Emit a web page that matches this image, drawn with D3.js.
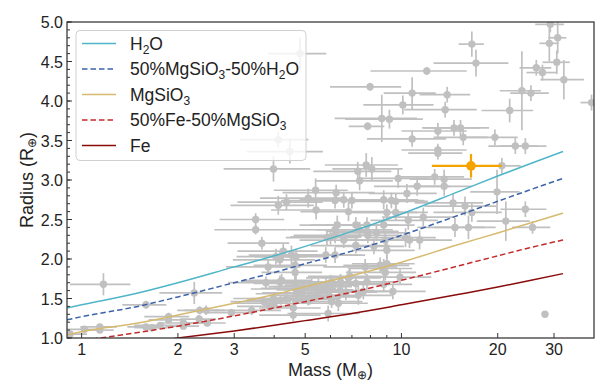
<!DOCTYPE html>
<html>
<head>
<meta charset="utf-8">
<script src="https://cdn.jsdelivr.net/npm/d3@7"></script>
<style>
  html, body { margin: 0; padding: 0; background: #ffffff; }
  svg { display: block; font-family: "Liberation Sans", Arial, sans-serif; }
</style>
</head>
<body>
<svg id="chart" width="610" height="390"></svg>
<script>
// ---------------- data ----------------
// Model curves (mass in Earth masses, radius in Earth radii)
const modelMass = [0.9, 1, 1.5, 2, 3, 4, 5, 7, 10, 15, 20, 25, 32];
const radiusH2O        = [1.38, 1.42, 1.57, 1.70, 1.90, 2.04, 2.16, 2.35, 2.57, 2.85, 3.05, 3.20, 3.36];
const radiusMgSiO3H2O  = [1.23, 1.27, 1.40, 1.52, 1.70, 1.83, 1.94, 2.10, 2.30, 2.55, 2.73, 2.87, 3.02];
const radiusMgSiO3     = [1.04, 1.08, 1.19, 1.29, 1.44, 1.55, 1.65, 1.79, 1.96, 2.18, 2.33, 2.45, 2.58];
const radiusFeMgSiO3   = [0.95, 0.97, 1.07, 1.15, 1.28, 1.38, 1.46, 1.58, 1.73, 1.91, 2.04, 2.14, 2.24];
const radiusFe         = [0.82, 0.845, 0.93, 1.00, 1.09, 1.16, 1.22, 1.31, 1.42, 1.55, 1.645, 1.725, 1.815];

// Observed planets
const planetMass = [
  0.92, 1.02, 1.14, 1.14, 1.17, 1.59, 1.59, 1.66, 1.76, 1.87,
  1.87, 2.08, 2.08, 2.25, 2.34, 2.45, 2.33, 2.47, 2.94, 3.5,
  3.5, 3.66, 3.83, 3.77, 3.72, 3.86, 3.98, 4.12, 4.37, 4.05,
  4.17, 4.27, 4.22, 4.37, 4.19, 4.53, 4.68, 4.65, 4.68, 4.59,
  4.59, 4.87, 5.11, 5.39, 5.41, 5.17, 5.5, 3.98, 7.76, 8.08,
  7.3, 7.4, 6.25, 6.2, 6.6, 7.0, 6.83, 8.8, 6.2, 6.3,
  6.2, 7.2, 7.4, 7.8, 7.8, 8.35, 8.8, 5.85, 6.0, 6.6,
  7.2, 8.2, 8.9, 9.0, 7.85, 9.77, 10.4, 9.3, 9.6, 9.0,
  9.6, 10.5, 11.2, 11.7, 12.7, 13.6, 13.6, 11.4, 10.3, 10.6,
  5.8, 6.2, 5.9, 6.35, 8.8, 9.0, 7.7, 8.58, 7.8, 7.2,
  9.9, 9.4, 6.43, 7.33, 7.6, 8.8, 8.9, 4.94, 5.24, 5.57,
  5.81, 6.0, 6.1, 6.45, 6.83, 6.9, 5.1, 5.43, 6.05, 5.98,
  6.7, 3.4, 4.0, 4.17, 4.65, 4.65, 4.7, 14.5, 15.8, 16.6,
  14.7, 16.2, 19.9, 20.6, 21.2, 24.4, 25.7, 22.7, 24.4, 28.1,
  16.6, 17.1, 12.0, 7.98, 10.8, 13.9, 10.1, 13.7, 8.68, 9.17,
  7.84, 13.0, 14.6, 15.3, 15.6, 10.8, 13.0, 13.0, 19.6, 21.8,
  23.8, 25.4, 26.4, 27.6, 30.6, 32.2, 29.0, 30.8, 29.2, 39.3,
  4.82, 4.12, 4.48
];
const planetRadius = [
  1.05, 1.11, 1.14, 1.10, 1.68, 1.42, 1.14, 1.13, 1.16, 1.27,
  1.23, 1.19, 1.15, 1.57, 1.35, 1.35, 1.24, 1.19, 1.32, 2.50,
  2.37, 2.20, 1.90, 1.70, 1.46, 1.40, 1.50, 2.68, 2.72, 2.03,
  1.99, 2.10, 1.73, 1.50, 1.48, 2.05, 2.03, 1.83, 1.62, 1.38,
  1.29, 1.57, 2.77, 2.87, 2.62, 1.50, 1.65, 3.14, 3.19, 3.14,
  3.11, 2.99, 2.84, 2.74, 2.75, 2.74, 2.60, 2.75, 2.37, 2.43,
  2.30, 2.43, 2.37, 2.43, 2.35, 2.33, 2.43, 2.27, 2.28, 2.24,
  2.17, 2.16, 2.24, 2.11, 2.30, 3.02, 2.83, 2.74, 2.73, 2.59,
  2.59, 2.49, 2.92, 2.53, 3.04, 3.01, 2.92, 2.24, 2.27, 2.24,
  2.05, 2.05, 1.31, 1.44, 1.88, 1.94, 1.90, 1.92, 1.71, 1.69,
  1.77, 1.59, 1.60, 1.54, 1.59, 1.68, 1.83, 1.63, 1.65, 1.61,
  1.67, 1.70, 1.69, 1.71, 1.76, 1.78, 1.49, 1.54, 1.46, 1.52,
  1.58, 1.35, 1.44, 1.71, 1.92, 1.69, 1.56, 2.71, 2.67, 2.59,
  2.40, 2.40, 2.85, 3.18, 2.48, 2.63, 2.40, 3.43, 3.43, 1.30,
  4.72, 4.48, 4.38, 4.18, 4.10, 4.08, 3.95, 3.89, 3.78, 3.77,
  3.68, 3.62, 3.66, 3.66, 3.54, 3.52, 3.38, 3.34, 3.54, 3.88,
  4.13, 4.10, 4.42, 4.36, 4.49, 4.27, 4.73, 4.80, 4.97, 3.98,
  4.60, 3.51, 3.36
];
const massErr = [
  0.12, 0.14, 0.15, 0.12, 0.25, 0.25, 0.2, 0.2, 0.3, 0.3,
  0.25, 0.3, 0.25, 0.5, 0.35, 0.35, 0.3, 0.35, 0.5, 0.8,
  0.9, 0.8, 1.0, 0.9, 0.8, 0.8, 1.0, 1.2, 1.3, 1.0,
  1.2, 1.2, 1.0, 1.0, 0.9, 1.2, 1.2, 1.0, 1.3, 1.0,
  1.0, 1.2, 1.5, 1.4, 1.5, 1.3, 1.5, 1.2, 2.0, 2.0,
  2.0, 2.0, 2.0, 2.0, 1.8, 2.0, 2.0, 2.5, 1.8, 1.5,
  1.6, 2.0, 2.0, 2.0, 2.0, 2.2, 2.2, 1.5, 1.5, 1.8,
  2.0, 2.0, 2.2, 2.0, 2.0, 2.5, 2.5, 2.5, 2.5, 2.2,
  2.5, 2.5, 3.0, 3.0, 3.0, 3.0, 3.0, 3.0, 2.5, 2.5,
  1.5, 1.5, 1.5, 1.5, 2.0, 2.0, 2.0, 2.0, 2.0, 1.8,
  2.5, 2.5, 1.8, 2.0, 2.0, 2.0, 2.2, 1.3, 1.4, 1.5,
  1.5, 1.5, 1.5, 1.5, 1.8, 1.8, 1.3, 1.4, 1.5, 1.5,
  1.7, 0.8, 1.0, 1.0, 1.2, 1.2, 1.2, 3.5, 4.0, 4.0,
  3.5, 3.5, 3.5, 3.0, 4.0, 4.0, 3.5, 4.0, 4.0, 0.4,
  1.5, 4.5, 4.0, 2.0, 2.0, 2.5, 2.5, 3.5, 2.5, 2.5,
  1.0, 3.0, 3.0, 3.5, 3.0, 3.0, 3.0, 2.5, 3.5, 4.0,
  3.5, 3.5, 3.0, 3.0, 3.0, 5.0, 2.0, 2.0, 3.0, 3.0,
  1.0, 1.0, 1.2
];
const radiusErr = [
  0.03, 0.03, 0.04, 0.03, 0.14, 0.05, 0.04, 0.03, 0.04, 0.05,
  0.04, 0.05, 0.04, 0.14, 0.05, 0.06, 0.05, 0.04, 0.05, 0.08,
  0.06, 0.08, 0.10, 0.08, 0.06, 0.06, 0.08, 0.12, 0.10, 0.10,
  0.10, 0.10, 0.08, 0.07, 0.06, 0.12, 0.10, 0.12, 0.20, 0.08,
  0.08, 0.08, 0.12, 0.15, 0.12, 0.08, 0.10, 0.16, 0.15, 0.15,
  0.12, 0.12, 0.10, 0.10, 0.10, 0.10, 0.12, 0.12, 0.10, 0.12,
  0.10, 0.10, 0.10, 0.10, 0.10, 0.10, 0.10, 0.10, 0.10, 0.10,
  0.10, 0.10, 0.10, 0.10, 0.10, 0.12, 0.12, 0.10, 0.10, 0.10,
  0.10, 0.12, 0.12, 0.12, 0.10, 0.12, 0.12, 0.12, 0.12, 0.10,
  0.10, 0.10, 0.10, 0.10, 0.12, 0.12, 0.10, 0.10, 0.10, 0.10,
  0.10, 0.10, 0.10, 0.12, 0.10, 0.10, 0.10, 0.08, 0.10, 0.10,
  0.10, 0.10, 0.10, 0.10, 0.10, 0.10, 0.08, 0.08, 0.08, 0.08,
  0.10, 0.06, 0.06, 0.08, 0.10, 0.10, 0.12, 0.12, 0.12, 0.12,
  0.12, 0.15, 0.28, 0.10, 0.25, 0.10, 0.08, 0.10, 0.10, 0.04,
  0.16, 0.17, 0.05, 0.05, 0.20, 0.10, 0.12, 0.10, 0.30, 0.12,
  0.05, 0.10, 0.10, 0.10, 0.10, 0.10, 0.08, 0.08, 0.10, 0.15,
  0.50, 0.10, 0.10, 0.10, 0.15, 0.25, 0.23, 0.20, 0.10, 0.10,
  0.20, 0.10, 0.15
];

// Highlighted planet
const targetMass = [16.5];
const targetRadius = [3.18];
const targetMassLo = [12.45];
const targetMassHi = [20.6];
const targetRadiusErr = [0.15];

// Axis ticks
const xMajorTicks = [1, 2, 3, 5, 10, 20, 30];
const xMinorTicks = [4, 6, 7, 8, 9];
const yMajorTicks = [1.0, 1.5, 2.0, 2.5, 3.0, 3.5, 4.0, 4.5, 5.0];
const yMinorTicks = d3.range(1.0, 5.0001, 0.1).map(v => +v.toFixed(1));

// Legend
const legendLabels = [
  [{t: "H"}, {t: "2", sub: true}, {t: "O"}],
  [{t: "50%MgSiO"}, {t: "3", sub: true}, {t: "-50%H"}, {t: "2", sub: true}, {t: "O"}],
  [{t: "MgSiO"}, {t: "3", sub: true}],
  [{t: "50%Fe-50%MgSiO"}, {t: "3", sub: true}],
  [{t: "Fe"}]
];
const curveSeries = [radiusH2O, radiusMgSiO3H2O, radiusMgSiO3, radiusFeMgSiO3, radiusFe];
const curveColors = ["#4fb5c9", "#3d63aa", "#d6ba6e", "#c42a2a", "#8a0b0b"];
const curveDashed = [false, true, false, true, false];

// ---------------- drawing ----------------
(function draw() {
const svg = d3.select("#chart");
const pL = 67, pR = 594, pT = 22, pB = 338;

const x = d3.scaleLog().domain([0.9, 40]).range([pL, pR]);
const y = d3.scaleLinear().domain([1, 5]).range([pB, pT]);

svg.append("defs").append("clipPath").attr("id", "plotclip")
  .append("rect").attr("x", pL).attr("y", pT)
  .attr("width", pR - pL).attr("height", pB - pT);

const plot = svg.append("g").attr("clip-path", "url(#plotclip)");

const gray = "#c0c0c0";
const pts = planetMass.map((m, i) => ({m, r: planetRadius[i], dm: massErr[i], dr: radiusErr[i]}));

// error bars
const eb = plot.append("g").attr("stroke", gray).attr("stroke-width", 1.7);
eb.selectAll("line.h").data(pts).join("line").attr("class", "h")
  .attr("x1", d => x(Math.max(0.5, d.m - d.dm))).attr("x2", d => x(d.m + d.dm))
  .attr("y1", d => y(d.r)).attr("y2", d => y(d.r));
eb.selectAll("line.v").data(pts).join("line").attr("class", "v")
  .attr("x1", d => x(d.m)).attr("x2", d => x(d.m))
  .attr("y1", d => y(d.r - d.dr)).attr("y2", d => y(d.r + d.dr));
plot.append("g").selectAll("circle").data(pts).join("circle")
  .attr("cx", d => x(d.m)).attr("cy", d => y(d.r)).attr("r", 3.7)
  .attr("fill", gray);

// model curves
curveSeries.forEach((series, k) => {
  const line = d3.line().x((d, i) => x(modelMass[i])).y(d => y(d)).curve(d3.curveMonotoneX);
  plot.append("path").datum(series)
    .attr("d", line)
    .attr("fill", "none")
    .attr("stroke", curveColors[k])
    .attr("stroke-width", 1.5)
    .attr("stroke-dasharray", curveDashed[k] ? "5.5,3" : null);
});

// highlighted planet
const orange = "#f5a300";
const tg = plot.append("g");
targetMass.forEach((m, i) => {
  tg.append("line").attr("x1", x(targetMassLo[i])).attr("x2", x(targetMassHi[i]))
    .attr("y1", y(targetRadius[i])).attr("y2", y(targetRadius[i]))
    .attr("stroke", orange).attr("stroke-width", 2.2);
  tg.append("line").attr("x1", x(m)).attr("x2", x(m))
    .attr("y1", y(targetRadius[i] - targetRadiusErr[i])).attr("y2", y(targetRadius[i] + targetRadiusErr[i]))
    .attr("stroke", orange).attr("stroke-width", 2.2);
  tg.append("circle").attr("cx", x(m)).attr("cy", y(targetRadius[i])).attr("r", 4.8).attr("fill", orange);
});

// frame
const axisColor = "#333333";
svg.append("rect").attr("x", pL).attr("y", pT)
  .attr("width", pR - pL).attr("height", pB - pT)
  .attr("fill", "none").attr("stroke", axisColor).attr("stroke-width", 1.25);

// x ticks (inward)
const xt = svg.append("g").attr("stroke", axisColor).attr("stroke-width", 1);
xt.selectAll("line.maj").data(xMajorTicks).join("line").attr("class", "maj")
  .attr("x1", d => x(d)).attr("x2", d => x(d)).attr("y1", pB).attr("y2", pB - 5);
xt.selectAll("line.min").data(xMinorTicks).join("line").attr("class", "min")
  .attr("x1", d => x(d)).attr("x2", d => x(d)).attr("y1", pB).attr("y2", pB - 3);
svg.append("g").selectAll("text").data(xMajorTicks).join("text")
  .attr("x", d => x(d)).attr("y", pB + 17)
  .attr("text-anchor", "middle").attr("font-size", 16).attr("fill", "#222")
  .text(d => d);

// y ticks
const yt = svg.append("g").attr("stroke", axisColor).attr("stroke-width", 1);
yt.selectAll("line.min").data(yMinorTicks).join("line").attr("class", "min")
  .attr("x1", pL).attr("x2", pL + 3).attr("y1", d => y(d)).attr("y2", d => y(d));
yt.selectAll("line.maj").data(yMajorTicks).join("line").attr("class", "maj")
  .attr("x1", pL).attr("x2", pL + 5).attr("y1", d => y(d)).attr("y2", d => y(d));
svg.append("g").selectAll("text").data(yMajorTicks).join("text")
  .attr("x", pL - 4).attr("y", d => y(d) + 6)
  .attr("text-anchor", "end").attr("font-size", 16).attr("fill", "#222")
  .text(d => d.toFixed(1));

// axis labels
const xl = svg.append("text").attr("x", (pL + pR) / 2).attr("y", 376)
  .attr("text-anchor", "middle").attr("font-size", 18).attr("fill", "#222");
xl.append("tspan").text("Mass (M");
xl.append("tspan").attr("font-size", 12).attr("dy", 3).text("⊕");
xl.append("tspan").attr("dy", -3).text(")");

const yl = svg.append("text").attr("transform", `translate(33,${(pT + pB) / 2}) rotate(-90)`)
  .attr("text-anchor", "middle").attr("font-size", 18).attr("fill", "#222");
yl.append("tspan").text("Radius (R");
yl.append("tspan").attr("font-size", 12).attr("dy", 3).text("⊕");
yl.append("tspan").attr("dy", -3).text(")");

// legend
const lg = svg.append("g");
lg.append("rect").attr("x", 76).attr("y", 30.5).attr("width", 230).attr("height", 130)
  .attr("rx", 4).attr("fill", "#ffffff").attr("fill-opacity", 0.8)
  .attr("stroke", "#d0d0d0").attr("stroke-width", 1);
legendLabels.forEach((parts, i) => {
  const cy = 43.5 + i * 25.5;
  lg.append("line").attr("x1", 82).attr("x2", 116).attr("y1", cy).attr("y2", cy)
    .attr("stroke", curveColors[i]).attr("stroke-width", 1.5)
    .attr("stroke-dasharray", curveDashed[i] ? "5.5,3" : null);
  const t = lg.append("text").attr("x", 130).attr("y", cy + 6)
    .attr("font-size", 17.5).attr("fill", "#222");
  let shifted = false;
  parts.forEach(p => {
    const ts = t.append("tspan").text(p.t);
    if (p.sub && !shifted) { ts.attr("font-size", 12).attr("dy", 4); shifted = true; }
    else if (!p.sub && shifted) { ts.attr("dy", -4); shifted = false; }
  });
});
})();
</script>
</body>
</html>
